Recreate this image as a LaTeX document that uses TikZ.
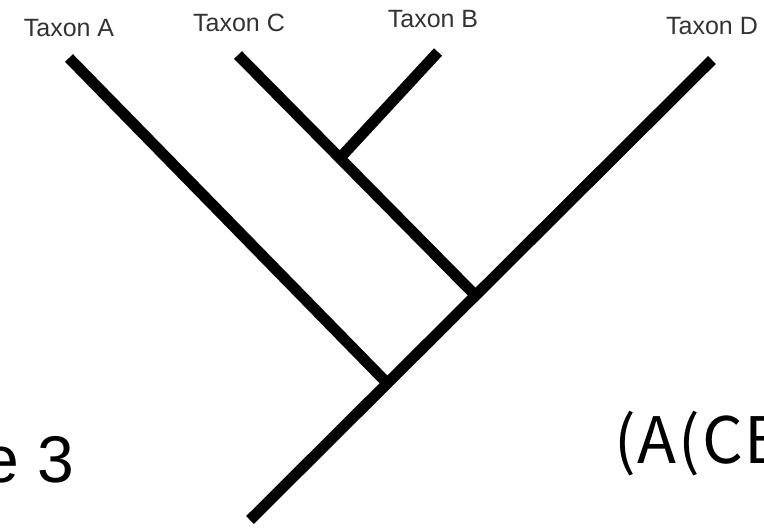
\documentclass[tikz,border=0pt]{standalone}
\usepackage{fontspec}
\setmainfont{Liberation Sans}
\newfontfamily\bigfont[LetterSpace=3]{Noto Sans CJK SC}
\begin{document}
\begin{tikzpicture}[x=1pt,y=-1pt,
  branch/.style={line width=11pt,line cap=butt,black},
  taxlabel/.style={inner sep=0pt,text=black!80,font=\fontsize{25}{27}\selectfont},
  biglabel/.style={inner sep=0pt,font=\fontsize{66}{70}\selectfont}]
\useasboundingbox (0,0) rectangle (764,531);
\coordinate (root) at (250,520);
\coordinate (nAD) at (387,383);
\coordinate (nCB) at (476,296);
\coordinate (nB) at (340,158);
\coordinate (tA) at (69,58);
\coordinate (tC) at (238,55);
\coordinate (tB) at (438,52);
\coordinate (tD) at (712,60);
\draw[branch] (root) -- (tD);
\draw[branch] (tA) -- (nAD);
\draw[branch] (tC) -- (nCB);
\draw[branch] (tB) -- (nB);
\node[taxlabel] (lA) at (69,28) {Taxon A};
\node[taxlabel] (lC) at (239,23) {Taxon C};
\node[taxlabel] (lB) at (433,19) {Taxon B};
\node[taxlabel] (lD) at (712,26) {Taxon D};
\node[biglabel,anchor=base east] (fig) at (74,482) {e 3};
\node[biglabel,anchor=base west,font=\bigfont\fontsize{64}{68}\selectfont] (newick) at (614,463) {(A(CB};
\end{tikzpicture}
\end{document}
